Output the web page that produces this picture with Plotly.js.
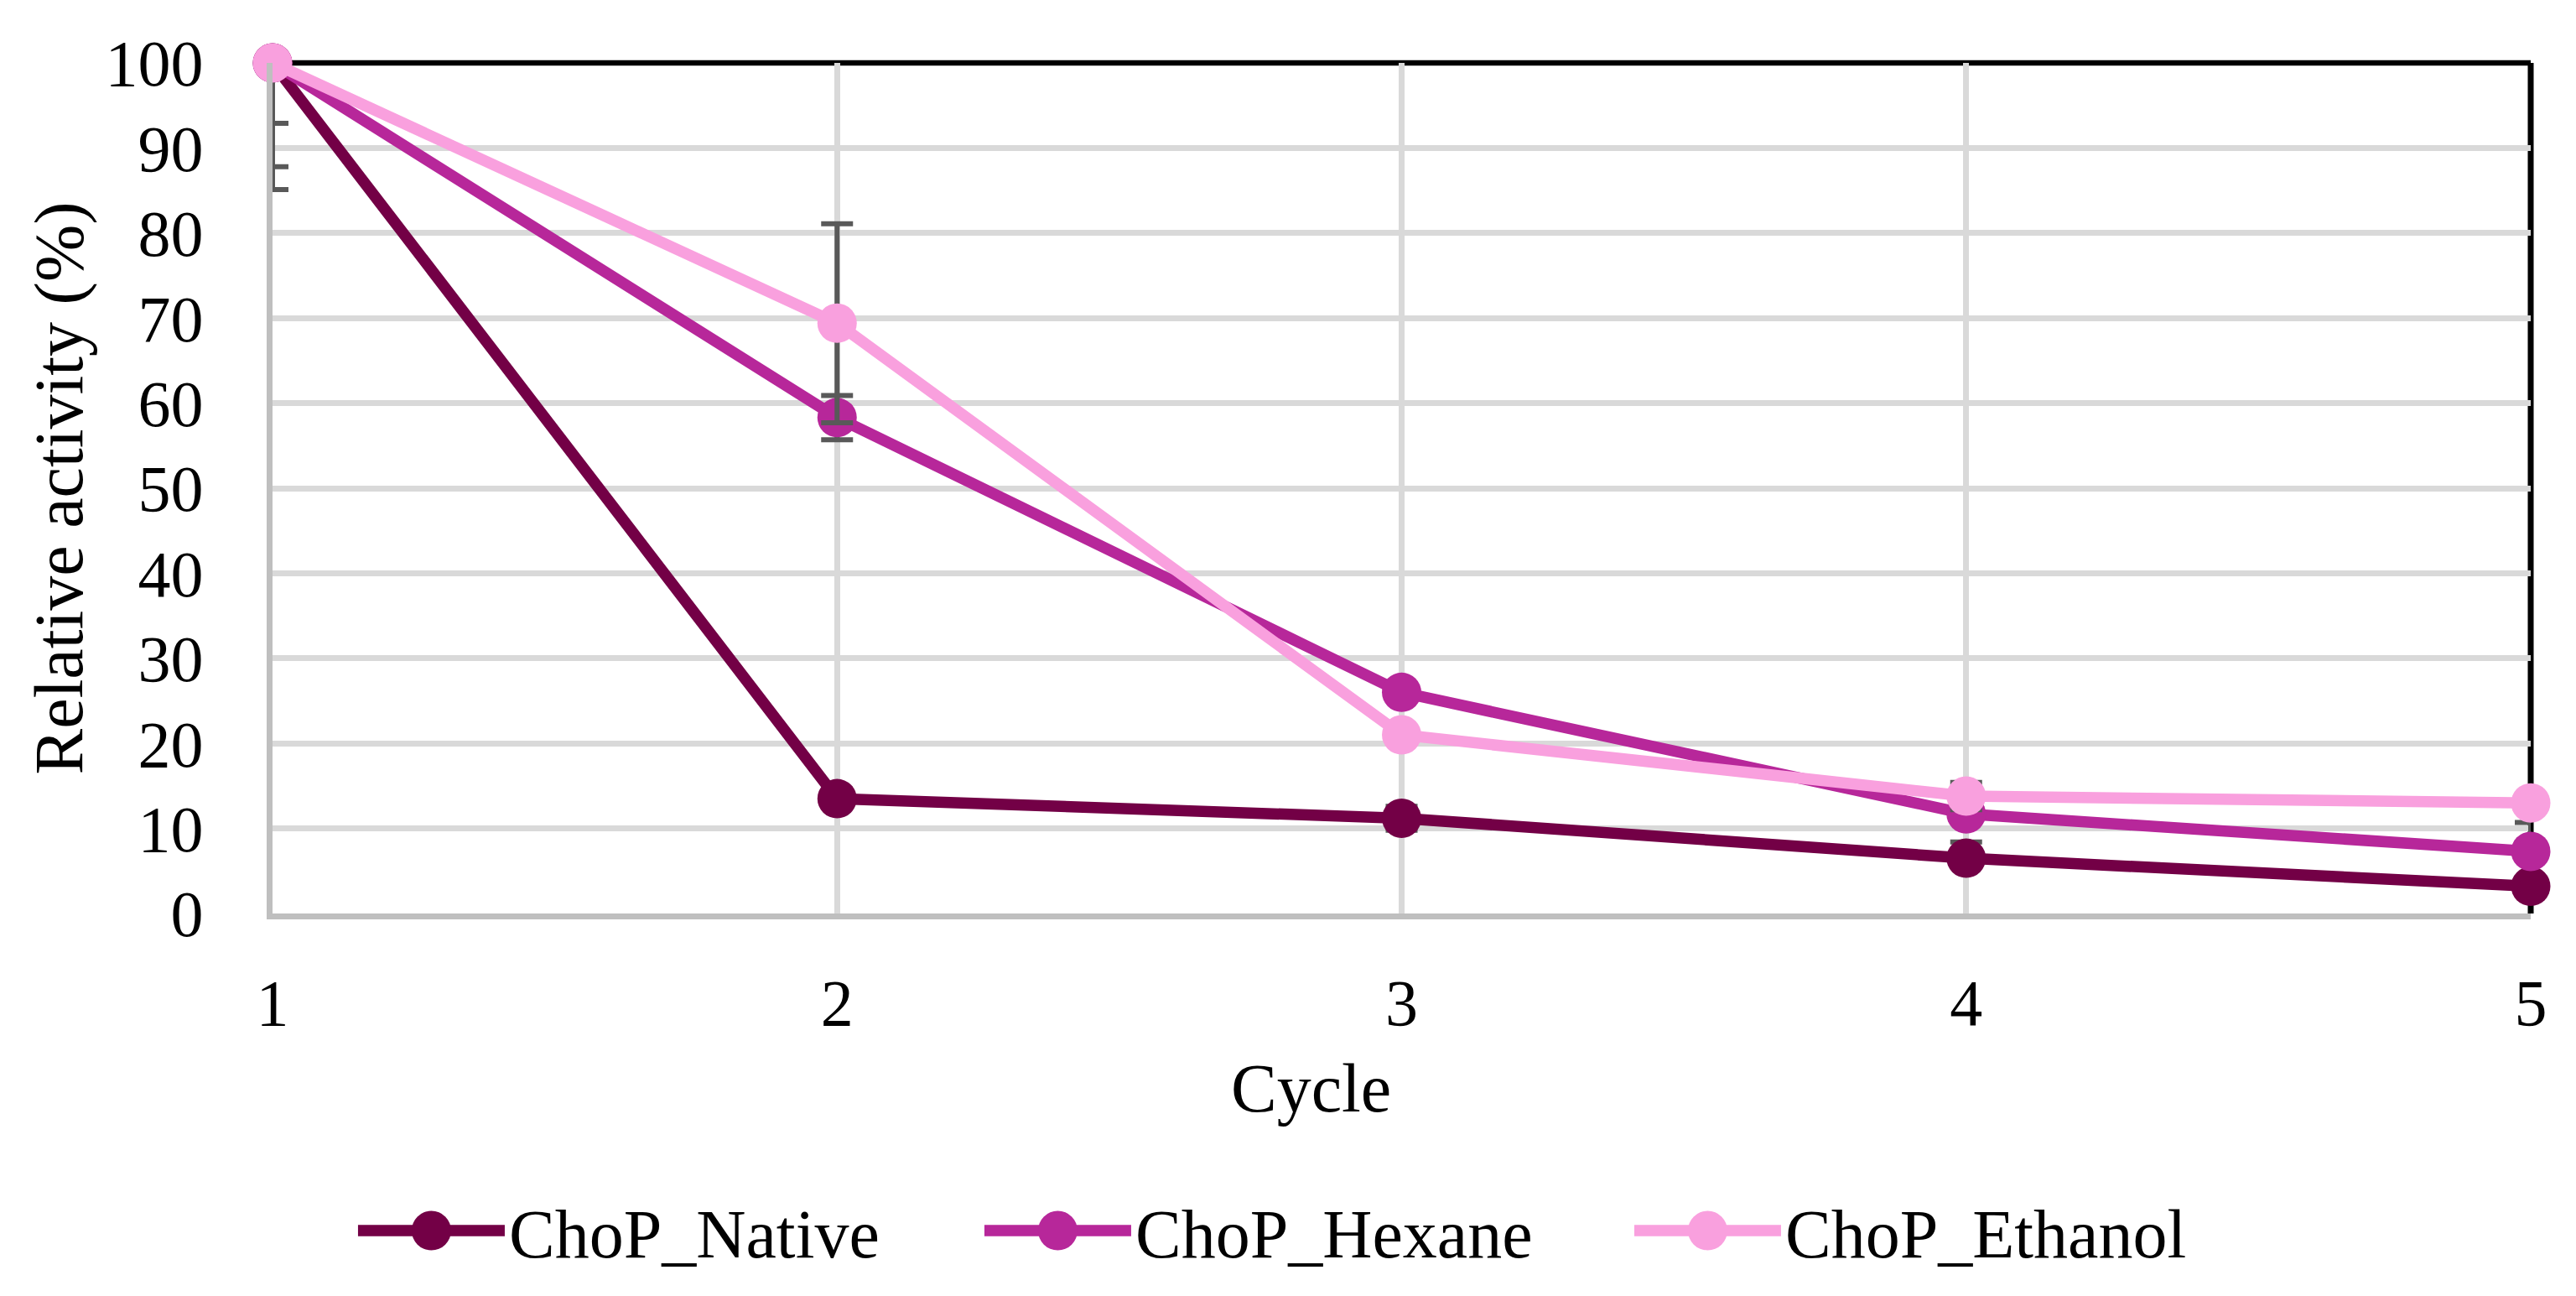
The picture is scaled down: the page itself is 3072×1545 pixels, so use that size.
<!DOCTYPE html>
<html><head><meta charset="utf-8">
<script src="https://cdn.plot.ly/plotly-3.0.1.min.js"></script>
<style>html,body{margin:0;padding:0;background:#fff;} #chart{width:3072px;height:1545px;}</style>
</head><body><div id="chart"></div>
<script>
const cycles = [1, 2, 3, 4, 5];
const xTickLabels = ['1', '2', '3', '4', '5'];
const yTickValues = [0, 10, 20, 30, 40, 50, 60, 70, 80, 90, 100];
const seriesNames = ['ChoP_Native', 'ChoP_Hexane', 'ChoP_Ethanol'];
const seriesColors = ['#730046', '#B7279A', '#F9A0DE'];
const xTitle = 'Cycle';
const yTitle = 'Relative activity (%)';

const nativeActivity = [100, 13.5, 11.2, 6.5, 3.2];
const hexaneActivity = [100, 58.3, 26.0, 11.7, 7.3];
const ethanolActivity = [100, 69.4, 21.0, 13.8, 13.0];

const nativeErrUp = [0, 0, 1.4, 1.9, 0];
const nativeErrDown = [12.2, 0, 1.4, 0, 0];
const hexaneErrUp = [0, 2.6, 0, 0, 3.4];
const hexaneErrDown = [7.1, 2.6, 0, 0, 0];
const ethanolErrUp = [0, 11.7, 0, 1.6, 0];
const ethanolErrDown = [14.9, 11.7, 0, 1.6, 0];

const legendEntryWidths = [557, 585, 480];

const FONT = 'Liberation Serif, Times New Roman, serif';
const LINE_W = 13.5;
const MARKER_D = 47;

function makeTrace(i, y, up, down) {
  return {
    x: cycles, y: y, name: seriesNames[i], type: 'scatter', mode: 'lines+markers',
    line: {color: seriesColors[i], width: LINE_W},
    marker: {color: seriesColors[i], size: MARKER_D},
    cliponaxis: false,
    legendwidth: legendEntryWidths[i],
    error_y: {type: 'data', symmetric: false, array: up, arrayminus: down,
              color: '#595959', thickness: 6, width: 19}
  };
}

const data = [
  makeTrace(0, nativeActivity, nativeErrUp, nativeErrDown),
  makeTrace(1, hexaneActivity, hexaneErrUp, hexaneErrDown),
  makeTrace(2, ethanolActivity, ethanolErrUp, ethanolErrDown)
];

const layout = {
  width: 3072, height: 1545,
  paper_bgcolor: '#ffffff', plot_bgcolor: '#ffffff',
  margin: {l: 325, r: 54, t: 75, b: 456},
  font: {family: FONT, color: '#000000', size: 78},
  xaxis: {
    range: [1, 5], tickvals: cycles, ticktext: xTickLabels,
    showgrid: true, gridcolor: '#d9d9d9', gridwidth: 7,
    showline: true, linecolor: '#bfbfbf', linewidth: 7, zeroline: false,
    ticks: '', ticklabelstandoff: 32,
    tickfont: {family: FONT, size: 78, color: '#000000'}
  },
  yaxis: {
    range: [0, 100], tickvals: yTickValues,
    showgrid: true, gridcolor: '#d9d9d9', gridwidth: 7,
    showline: true, linecolor: '#bfbfbf', linewidth: 7, zeroline: false,
    ticks: '', ticklabelstandoff: 60,
    tickfont: {family: FONT, size: 78, color: '#000000'},
    title: {text: yTitle, font: {family: FONT, size: 82, color: '#000000'}, standoff: 2}
  },
  annotations: [
    {text: xTitle, xref: 'paper', yref: 'paper', x: 0.460, y: -0.206,
     xanchor: 'center', yanchor: 'middle', showarrow: false,
     font: {family: FONT, size: 82, color: '#000000'}}
  ],
  shapes: [
    {type: 'line', xref: 'paper', yref: 'paper', x0: 0, x1: 1, y0: 1, y1: 1,
     line: {color: '#000000', width: 6.5}, layer: 'between'},
    {type: 'line', xref: 'paper', yref: 'paper', x0: 1, x1: 1, y0: 0, y1: 1,
     line: {color: '#000000', width: 7}, layer: 'between'}
  ],
  showlegend: true,
  legend: {
    orientation: 'h', x: 0.036, xanchor: 'left', y: -0.373, yanchor: 'middle',
    font: {family: FONT, size: 82, color: '#000000'},
    itemwidth: 175, bgcolor: 'rgba(0,0,0,0)'
  }
};

function circlePath(r) {
  return 'M' + r + ',0A' + r + ',' + r + ' 0 1,1 0,-' + r +
         'A' + r + ',' + r + ' 0 0,1 ' + r + ',0Z';
}

Plotly.newPlot('chart', data, layout, {staticPlot: true, displayModeBar: false}).then(function (gd) {
  // enlarge legend symbols to match the trace styling
  gd.querySelectorAll('.legend .legendlines path').forEach(function (p) {
    p.style.strokeWidth = LINE_W + 'px';
  });
  gd.querySelectorAll('.legend .legendpoints path.scatterpts').forEach(function (p) {
    p.setAttribute('d', circlePath(MARKER_D / 2));
  });
});
</script>
</body></html>
